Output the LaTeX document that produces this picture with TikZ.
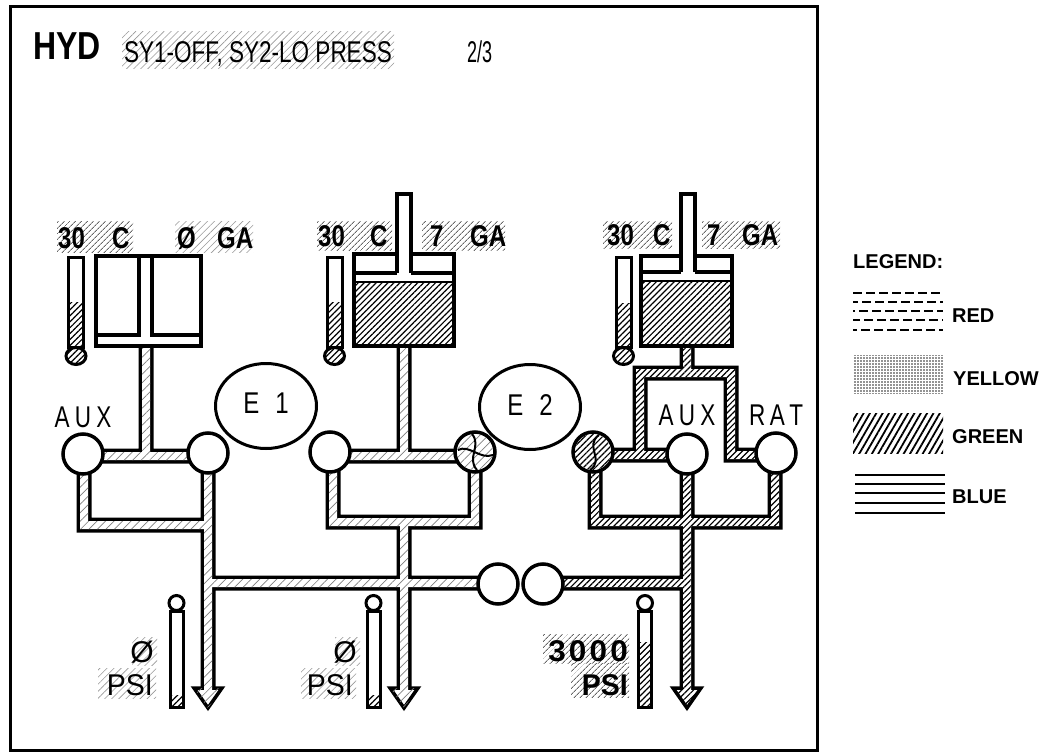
\documentclass[tikz,border=0pt]{standalone}
\usepackage{fontspec}
\setmainfont{Liberation Sans}
\usepackage{graphicx}
\usetikzlibrary{patterns.meta,shapes.geometric}
\newcommand{\sx}[2]{\scalebox{#1}[1]{#2}}
\newcommand{\fHyd}{\fontsize{39}{39}\selectfont}
\newcommand{\fLbl}{\fontsize{30}{30}\selectfont}
\newcommand{\fLeg}{\fontsize{20}{20}\selectfont}
% pipes: vertical (x, y1, y2), horizontal (y, x1, x2)
\newcommand{\vpo}[3]{(#1-7.5,#2-7.5) rectangle (#1+7.5,#3+7.5)}
\newcommand{\vpi}[3]{(#1-4,#2-4) rectangle (#1+4,#3+4)}
\newcommand{\hpo}[3]{(#2-7.5,#1-7.5) rectangle (#3+7.5,#1+7.5)}
\newcommand{\hpi}[3]{(#2-4,#1-4) rectangle (#3+4,#1+4)}
\begin{document}
\begin{tikzpicture}[x=1pt,y=-1pt,
  wall/.style={line width=3.5pt},
  pump/.style={circle,draw,line width=3.5pt,fill=white,minimum size=40pt,inner sep=0pt},
  eng/.style={ellipse,draw,line width=3pt,minimum width=101pt,minimum height=85pt,inner sep=0pt},
  dense/.style={pattern={Lines[angle=45,distance=4.2pt,line width=1.2pt]},pattern color=black},
  sparse/.style={pattern={Lines[angle=45,distance=6pt,line width=0.7pt]},pattern color=black!50},
  lbg/.style={pattern={Lines[angle=45,distance=4pt,line width=1pt]},pattern color=black!60},
  sbg/.style={pattern={Lines[angle=45,distance=5pt,line width=0.6pt]},pattern color=black!40},
  txt/.style={inner sep=0pt,font=\fLbl},
  btxt/.style={inner sep=0pt,font=\fLbl\bfseries},
  leg/.style={inner sep=0pt,font=\fLeg\bfseries,anchor=base west},
]
\useasboundingbox (0,0) rectangle (1044,754);
\fill[white] (0,0) rectangle (1044,754);
% frame
\draw[line width=3pt] (10,7) rectangle (817,750);

% ---------- title ----------
\node[inner sep=0pt,font=\fHyd\bfseries,anchor=base west] (hyd) at (33,60) {\sx{0.82}{HYD}};
\fill[sbg] (122,32) rectangle (394,69);
\node[txt,anchor=base west] (status) at (124,63) {\sx{0.75}{SY1-OFF, SY2-LO PRESS}};
\node[txt,anchor=base west] (page) at (467,63) {\sx{0.6}{2/3}};

% ---------- pipes ----------
\fill[black]
  \vpo{146}{347}{456} \vpo{84}{454}{525} \vpo{208}{453}{688}
  \vpo{404}{347}{456} \vpo{333}{452}{522} \vpo{475}{452}{522} \vpo{404}{522}{688}
  \hpo{456}{84}{208} \hpo{525}{84}{208} \hpo{456}{330}{475} \hpo{522}{333}{475} \hpo{583}{208}{498}
  \vpo{687}{347}{373} \vpo{640}{373}{455} \vpo{731}{373}{455} \vpo{595}{452}{522} \vpo{775}{452}{522} \vpo{687}{455}{688}
  \hpo{373}{640}{731} \hpo{455}{593}{687} \hpo{455}{731}{776} \hpo{522}{595}{775} \hpo{583}{543}{687};
% arrow heads
\draw[wall,fill=white,line join=miter] (194,688) -- (222,688) -- (208,708) -- cycle;
\fill[sparse] (194,688) -- (222,688) -- (208,708) -- cycle;
\draw[wall,fill=white,line join=miter] (390,688) -- (418,688) -- (404,708) -- cycle;
\fill[sparse] (390,688) -- (418,688) -- (404,708) -- cycle;
\draw[wall,fill=white,line join=miter] (673,688) -- (701,688) -- (687,708) -- cycle;
\fill[dense] (673,688) -- (701,688) -- (687,708) -- cycle;
% inner channels
\fill[white]
  \vpi{146}{347}{456} \vpi{84}{454}{525} \vpi{208}{453}{688}
  \vpi{404}{347}{456} \vpi{333}{452}{522} \vpi{475}{452}{522} \vpi{404}{522}{688}
  \hpi{456}{84}{208} \hpi{525}{84}{208} \hpi{456}{330}{475} \hpi{522}{333}{475} \hpi{583}{208}{498}
  \vpi{687}{347}{373} \vpi{640}{373}{455} \vpi{731}{373}{455} \vpi{595}{452}{522} \vpi{775}{452}{522} \vpi{687}{455}{688}
  \hpi{373}{640}{731} \hpi{455}{593}{687} \hpi{455}{731}{776} \hpi{522}{595}{775} \hpi{583}{543}{687};
\fill[sparse]
  \vpi{146}{347}{456} \vpi{84}{454}{525} \vpi{208}{453}{688}
  \vpi{404}{347}{456} \vpi{333}{452}{522} \vpi{475}{452}{522} \vpi{404}{522}{688}
  \hpi{456}{84}{208} \hpi{525}{84}{208} \hpi{456}{330}{475} \hpi{522}{333}{475} \hpi{583}{208}{498};
\fill[dense]
  \vpi{687}{347}{373} \vpi{640}{373}{455} \vpi{731}{373}{455} \vpi{595}{452}{522} \vpi{775}{452}{522} \vpi{687}{455}{688}
  \hpi{373}{640}{731} \hpi{455}{593}{687} \hpi{455}{731}{776} \hpi{522}{595}{775} \hpi{583}{543}{687};

% ---------- reservoirs ----------
% left (empty)
\draw[wall,fill=white] (96,256) rectangle (201,346);
\draw[wall] (139,256) -- (139,335) -- (96,335);
\draw[wall] (152,256) -- (152,335) -- (201,335);
% middle
\fill[white] (354,254) rectangle (454,346);
\fill[dense] (354,282) rectangle (454,346);
\draw[wall] (354,254) rectangle (454,346);
\draw[line width=2.5pt] (354,282) -- (454,282);
\draw[wall] (354,273) -- (397,273);
\draw[wall] (411,273) -- (454,273);
\fill[white] (397,193) rectangle (411,273);
\draw[wall] (397,273) -- (397,194) -- (411,194) -- (411,273);
% right
\fill[white] (641,256) rectangle (732,346);
\fill[dense] (641,281) rectangle (732,346);
\draw[wall] (641,256) rectangle (732,346);
\draw[line width=2.5pt] (641,281) -- (732,281);
\draw[wall] (641,272) -- (681,272);
\draw[wall] (695,272) -- (732,272);
\fill[white] (681,193) rectangle (695,272);
\draw[wall] (681,272) -- (681,194) -- (695,194) -- (695,272);

% ---------- thermometers ----------
\foreach \tx/\ty in {76/302, 334.5/302, 623.5/303} {
  \fill[white] (\tx-7.5,257) rectangle (\tx+7.5,347);
  \fill[dense] (\tx-7.5,\ty) rectangle (\tx+7.5,347);
  \draw[line width=3pt] (\tx-7.5,257) rectangle (\tx+7.5,347);
  \filldraw[line width=3pt,fill=white] (\tx,356) ellipse[x radius=10pt,y radius=8.5pt];
  \fill[dense] (\tx,356) ellipse[x radius=9pt,y radius=7.5pt];
}

% ---------- engines ----------
\node[eng] (e1) at (266,406) {};
\node[inner sep=0pt,font=\fLbl,anchor=base] (e1t) at (266,413) {\sx{0.8}{E\kern20pt 1}};
\node[eng] (e2) at (530,407) {};
\node[inner sep=0pt,font=\fLbl,anchor=base] (e2t) at (530,415) {\sx{0.8}{E\kern20pt 2}};

% ---------- pumps ----------
\node[pump] (auxL) at (83,454) {};
\node[pump] (edp1) at (208,453) {};
\node[pump] (pm1) at (330,452) {};
\node[pump] (pm2) at (475,452) {};
\fill[sparse] (pm2.center) circle[radius=18pt];
\draw[line width=2pt] (458,450) .. controls (469,444) and (480,460) .. (493,455);
\draw[line width=2pt] (472,434) .. controls (482,446) and (466,458) .. (477,470);
\node[pump] (edp2) at (593,452) {};
\fill[dense] (edp2.center) circle[radius=18pt];
\draw[line width=2pt] (599,435) .. controls (584,446) and (605,460) .. (590,470);
\node[pump] (auxR) at (687,454) {};
\node[pump] (rat) at (776,453) {};
\node[pump] (ptu1) at (498,584) {};
\node[pump] (ptu2) at (543,584) {};

\node[txt,anchor=base] (auxLt) at (83,427) {\sx{0.75}{A\kern7pt U\kern7pt X}};
\node[txt,anchor=base] (auxRt) at (687,425) {\sx{0.75}{A\kern7pt U\kern7pt X}};
\node[txt,anchor=base] (ratt) at (776,425) {\sx{0.75}{R\kern6pt A\kern6pt T}};

% ---------- quantity labels ----------
\fill[lbg] (57,222) rectangle (133,252);
\fill[sbg] (175,222) rectangle (253,252);
\node[btxt,anchor=base west] at (58,248) {\sx{0.8}{30}};
\node[btxt,anchor=base west] at (112,248) {\sx{0.8}{C}};
\node[btxt,anchor=base west] at (177,248) {\sx{0.8}{Ø}};
\node[btxt,anchor=base west] at (217,248) {\sx{0.8}{GA}};
\fill[lbg] (317,222) rectangle (392,250);
\fill[lbg] (422,222) rectangle (505,250);
\node[btxt,anchor=base west] at (318,247) {\sx{0.8}{30}};
\node[btxt,anchor=base west] at (370,247) {\sx{0.8}{C}};
\node[btxt,anchor=base west] at (430,247) {\sx{0.8}{7}};
\node[btxt,anchor=base west] at (470,247) {\sx{0.8}{GA}};
\fill[lbg] (603,222) rectangle (672,248);
\fill[lbg] (702,222) rectangle (780,248);
\node[btxt,anchor=base west] at (607,246) {\sx{0.8}{30}};
\node[btxt,anchor=base west] at (653,246) {\sx{0.8}{C}};
\node[btxt,anchor=base west] at (707,246) {\sx{0.8}{7}};
\node[btxt,anchor=base west] at (742,246) {\sx{0.8}{GA}};

% ---------- pressure gauges ----------
\foreach \gx/\gt/\gb in {176.5/695/707, 373.5/695/707, 645/642/707} {
  \fill[white] (\gx-6.5,611) rectangle (\gx+6.5,707);
  \fill[dense] (\gx-6.5,\gt) rectangle (\gx+6.5,\gb);
  \draw[line width=3pt] (\gx-6.5,611) rectangle (\gx+6.5,707);
  \filldraw[line width=3pt,fill=white] (\gx,603) circle[radius=7.5pt];
}
\fill[sbg] (132,637) rectangle (157,665);
\fill[sbg] (98,668) rectangle (156,698);
\node[txt,anchor=base east] at (154,662) {Ø};
\node[txt,anchor=base east] at (153,695) {\sx{0.95}{PSI}};
\fill[sbg] (335,637) rectangle (360,665);
\fill[sbg] (301,668) rectangle (356,698);
\node[txt,anchor=base east] at (357,662) {Ø};
\node[txt,anchor=base east] at (353,695) {\sx{0.95}{PSI}};
\fill[lbg] (543,634) rectangle (629,663);
\fill[lbg] (571,663) rectangle (629,697);
\node[btxt,anchor=base east] at (628,661) {\sx{1.05}{3\kern3pt 0\kern3pt 0\kern3pt 0}};
\node[btxt,anchor=base east] at (628,695) {\sx{0.95}{PSI}};

% ---------- legend ----------
\node[leg] (legend) at (853,268) {LEGEND:};
\foreach \yy/\ph in {293/0,302/4,311/7,320/2,330/5}
  \draw[line width=1.6pt,dash pattern=on 9pt off 4pt,dash phase=\ph pt] (853,\yy) -- (943,\yy);
\node[leg] (red) at (952,322) {RED};
\fill[pattern={Dots[distance=3pt,radius=0.8pt]},pattern color=black!85] (853,355) rectangle (943,393);
\node[leg] (yellow) at (953,385) {YELLOW};
\fill[pattern={Lines[angle=60,distance=5.5pt,line width=1.8pt]},pattern color=black] (853,413) rectangle (943,453);
\node[leg] (green) at (952,443) {GREEN};
\foreach \yy in {475,484,493,503,513}
  \draw[line width=1.5pt] (855,\yy) -- (945,\yy);
\node[leg] (blue) at (952,503) {BLUE};
\end{tikzpicture}
\end{document}
